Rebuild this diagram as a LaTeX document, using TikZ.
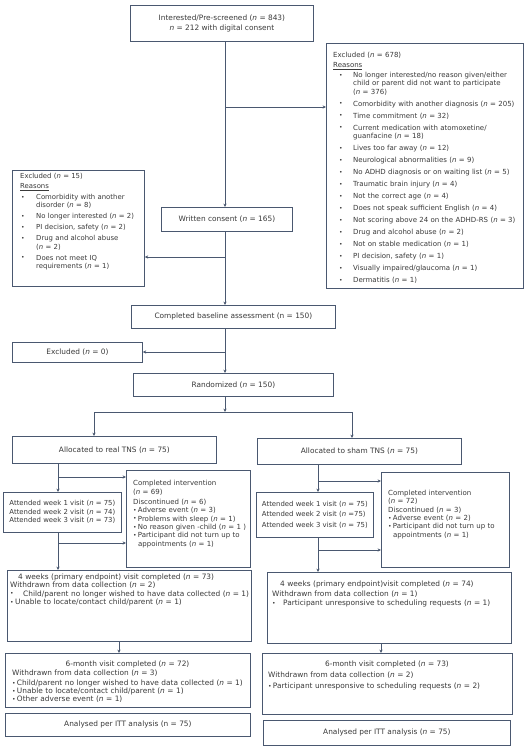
\documentclass[tikz,border=0pt]{standalone}
\usepackage{fontspec}
\setmainfont{DejaVu Sans}
\usetikzlibrary{arrows.meta}
\definecolor{ln}{HTML}{4A5870}
\definecolor{tx}{HTML}{3A3A3A}
\newcommand\nI{\textit{n}}
\newcommand\dotb{\raisebox{0.3pt}{\fontsize{6}{6}\selectfont\textbullet}}
\newcommand\bitem[2]{\hspace*{#1}\makebox[#2][l]{\dotb}}
\newcommand\cont[1]{\hspace*{#1}}
\newcommand\sml{\fontsize{7.0}{8.3}\selectfont}
\newcommand\bx[6]{\node[box,minimum width={#4pt-#2pt},minimum height={#5pt-#3pt}] (#1) at (#2,#3) {#6};}
\tikzset{
  box/.style={draw=ln, line width=0.8pt, fill=white, inner sep=0pt, anchor=north west, align=center, text=tx},
  txt/.style={anchor=base west, inner sep=0pt, align=left, text=tx},
  ttl/.style={anchor=base, inner sep=0pt, text=tx},
  arr/.style={draw=ln, line width=0.8pt, -{Stealth[length=3.4pt,width=3.2pt]}},
  con/.style={draw=ln, line width=0.8pt}
}
\begin{document}
\begin{tikzpicture}[x=1pt,y=-1pt,font=\fontsize{7.4}{8.3}\selectfont]
\fill[white] (0,0) rectangle (527,748);
\useasboundingbox (0,0) rectangle (527,748);

% boxes
\bx{top}{130}{5}{313}{41}{Interested/Pre-screened (\nI{} = 843)\\[2.5pt] \nI{} = 212 with digital consent}
\bx{exc678}{326}{43}{523}{288}{}
\bx{exc15}{12}{170}{144}{286}{}
\bx{wc}{161}{207}{292}{231}{Written consent (\nI{} = 165)}
\bx{base}{131}{305}{335}{328}{Completed baseline assessment (n = 150)}
\bx{exc0}{12}{342}{142}{362}{Excluded (\nI{} = 0)}
\bx{rand}{133}{373}{333}{396}{Randomized (\nI{} = 150)}
\bx{allocR}{12}{436}{216}{463}{Allocated to real TNS (\nI{} = 75)}
\bx{allocS}{257}{438}{461}{464}{Allocated to sham TNS (\nI{} = 75)}
\bx{attR}{3}{492}{121}{532}{\fontsize{6.9}{8.3}\selectfont\begin{tabular}{@{}l@{}}Attended week 1 visit (\nI{} = 75)\\ Attended week 2 visit (\nI{} = 74)\\ Attended week 3 visit (\nI{} = 73)\end{tabular}}
\bx{compR}{126}{470}{250}{567}{}
\bx{attS}{256}{492}{373}{537}{\fontsize{6.9}{8.3}\selectfont\begin{tabular}{@{}l@{}}Attended week 1 visit (\nI{} = 75)\\[2.2pt] Attended week 2 visit (\nI{} =75)\\[2.2pt] Attended week 3 visit (\nI{} = 75)\end{tabular}}
\bx{compS}{381}{472}{509}{567}{}
\bx{fourR}{7}{570}{251}{641}{}
\bx{fourS}{267}{572}{511}{643}{}
\bx{sixR}{5}{653}{250}{707}{}
\bx{sixS}{262}{653}{512}{714}{}
\bx{anaR}{5}{713}{250}{736}{Analysed per ITT analysis (n = 75)}
\bx{anaS}{263}{720}{510}{745}{Analysed per ITT analysis (\nI{} = 75)}

% box texts
\node[txt,text width=200pt,font=\sml] (exc678t) at (333,57.5) {Excluded (\nI{} = 678)\\[1.7pt]
\underline{Reasons}\\[1.7pt]
\bitem{6pt}{14pt}No longer interested/no reason given/either\\
\cont{20pt}child or parent did not want to participate\\
\cont{20pt}(\nI{} = 376)\\[3.7pt]
\bitem{6pt}{14pt}Comorbidity with another diagnosis (\nI{} = 205)\\[3.7pt]
\bitem{6pt}{14pt}Time commitment (\nI{} = 32)\\[3.7pt]
\bitem{6pt}{14pt}Current medication with atomoxetine/\\
\cont{20pt}guanfacine (\nI{} = 18)\\[3.7pt]
\bitem{6pt}{14pt}Lives too far away (\nI{} = 12)\\[3.7pt]
\bitem{6pt}{14pt}Neurological abnormalities (\nI{} = 9)\\[3.7pt]
\bitem{6pt}{14pt}No ADHD diagnosis or on waiting list (\nI{} = 5)\\[3.7pt]
\bitem{6pt}{14pt}Traumatic brain injury (\nI{} = 4)\\[3.7pt]
\bitem{6pt}{14pt}Not the correct age (\nI{} = 4)\\[3.7pt]
\bitem{6pt}{14pt}Does not speak sufficient English (\nI{} = 4)\\[3.7pt]
\bitem{6pt}{14pt}Not scoring above 24 on the ADHD-RS (\nI{} = 3)\\[3.7pt]
\bitem{6pt}{14pt}Drug and alcohol abuse (\nI{} = 2)\\[3.7pt]
\bitem{6pt}{14pt}Not on stable medication (\nI{} = 1)\\[3.7pt]
\bitem{6pt}{14pt}PI decision, safety (\nI{} = 1)\\[3.7pt]
\bitem{6pt}{14pt}Visually impaired/glaucoma (\nI{} = 1)\\[3.7pt]
\bitem{6pt}{14pt}Dermatitis (\nI{} = 1)};

\node[txt,text width=130pt,font=\fontsize{6.9}{8.3}\selectfont] (exc15t) at (20,178.5) {Excluded (\nI{} = 15)\\[1.7pt]
\underline{Reasons}\\[2.7pt]
\bitem{1pt}{15pt}Comorbidity with another\\
\cont{16pt}disorder (\nI{} = 8)\\[2.7pt]
\bitem{1pt}{15pt}No longer interested (\nI{} = 2)\\[2.7pt]
\bitem{1pt}{15pt}PI decision, safety (\nI{} = 2)\\[2.7pt]
\bitem{1pt}{15pt}Drug and alcohol abuse\\
\cont{16pt}(\nI{} = 2)\\[2.7pt]
\bitem{1pt}{15pt}Does not meet IQ\\
\cont{16pt}requirements (\nI{} = 1)};

\node[txt,text width=140pt,font=\sml] (compRt) at (133,485.5) {Completed intervention\\[0.7pt]
(\nI{} = 69)\\[1.7pt]
Discontinued (\nI{} = 6)\\
\dotb\,Adverse event (\nI{} = 3)\\
\dotb\,Problems with sleep (\nI{} = 1)\\
\dotb\,No reason given -child (\nI{} = 1 )\\
\dotb\,Participant did not turn up to\\
\cont{5pt}appointments (\nI{} = 1)};

\node[txt,text width=140pt,font=\sml] (compSt) at (388,495.5) {Completed intervention\\
(\nI{} = 72)\\
Discontinued (\nI{} = 3)\\
\dotb\,Adverse event (\nI{} = 2)\\
\dotb\,Participant did not turn up to\\
\cont{5pt}appointments (\nI{} = 1)};

\node[txt,text width=250pt] (fourRt) at (10,579.5) {\cont{8pt}4 weeks (primary endpoint) visit completed (\nI{} = 73)\\
Withdrawn from data collection (\nI{} = 2)\\
\makebox[13pt][l]{\dotb}Child/parent no longer wished to have data collected (\nI{} = 1)\\
\makebox[5pt][l]{\dotb}Unable to locate/contact child/parent (\nI{} = 1)};

\node[txt,text width=250pt] (fourSt) at (272,586.5) {\cont{8pt}4 weeks (primary endpoint)visit completed (\nI{} = 74)\\[1.2pt]
Withdrawn from data collection (\nI{} = 1)\\[1.2pt]
\makebox[11pt][l]{\dotb}Participant unresponsive to scheduling requests (\nI{} = 1)};

\node[ttl] (sixRh) at (127.5,666.5) {6-month visit completed (\nI{} = 72)};
\node[txt,text width=250pt] (sixRt) at (12,675.5) {Withdrawn from data collection (\nI{} = 3)\\[1.5pt]
\dotb\,Child/parent no longer wished to have data collected (\nI{} = 1)\\
\dotb\,Unable to locate/contact child/parent (\nI{} = 1)\\
\dotb\,Other adverse event (\nI{} = 1)};

\node[ttl] (sixSh) at (387,666.5) {6-month visit completed (\nI{} = 73)};
\node[txt,text width=250pt] (sixSt) at (268,677.5) {Withdrawn from data collection (\nI{} = 2)\\[2.7pt]
\dotb\,Participant unresponsive to scheduling requests (\nI{} = 2)};

% connector coordinates
\coordinate (tk) at (225,0);
\coordinate (b1) at (225,107);
\coordinate (b2) at (225,257);
\coordinate (b3) at (225,352);
\coordinate (sp) at (225,412);
\coordinate (spL) at (94,412);
\coordinate (spR) at (352,412);
\coordinate (lR) at (58,0);
\coordinate (c1) at (58,477);
\coordinate (c2) at (58,543);
\coordinate (lS) at (318,0);
\coordinate (d1) at (318,481);
\coordinate (d2) at (318,550);
\coordinate (dR) at (119,0);
\coordinate (dS) at (381,0);

% connectors
\draw[arr] (tk |- top.south) -- (tk |- wc.north);
\draw[arr] (b1) -- (b1 -| exc678.west);
\draw[arr] (tk |- wc.south) -- (tk |- base.north);
\draw[arr] (b2) -- (b2 -| exc15.east);
\draw[arr] (tk |- base.south) -- (tk |- rand.north);
\draw[arr] (b3) -- (b3 -| exc0.east);
\draw[arr] (tk |- rand.south) -- (sp);
\draw[con] (spL) -- (spR);
\draw[arr] (spL) -- (spL |- allocR.north);
\draw[arr] (spR) -- (spR |- allocS.north);

\draw[arr] (lR |- allocR.south) -- (lR |- attR.north);
\draw[arr] (lR |- attR.south) -- (lR |- fourR.north);
\draw[arr] (c1) -- (c1 -| compR.west);
\draw[arr] (c2) -- (c2 -| compR.west);

\draw[arr] (lS |- allocS.south) -- (lS |- attS.north);
\draw[arr] (lS |- attS.south) -- (lS |- fourS.north);
\draw[arr] (d1) -- (d1 -| compS.west);
\draw[arr] (d2) -- (d2 -| compS.west);

\draw[arr] (dR |- fourR.south) -- (dR |- sixR.north);
\draw[arr] (dS |- fourS.south) -- (dS |- sixS.north);
\end{tikzpicture}
\end{document}
